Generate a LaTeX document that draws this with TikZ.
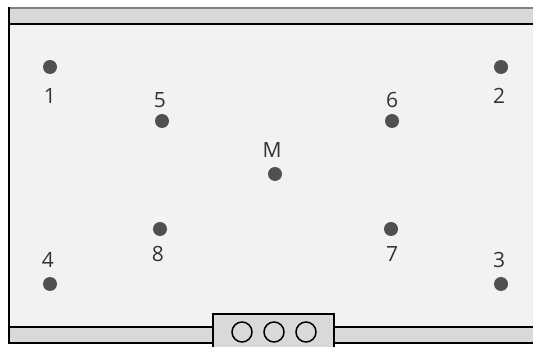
\documentclass[tikz,border=0pt]{standalone}
\usepackage{fontspec}
\setmainfont{Open Sans}
\usetikzlibrary{positioning}

\definecolor{panelbg}{HTML}{F2F2F2}
\definecolor{railgray}{HTML}{D9D9D9}
\definecolor{dotgray}{HTML}{505050}
\definecolor{textgray}{HTML}{333333}

\begin{document}
\begin{tikzpicture}[
        x=1pt, y=-1pt,
        sensor/.style={
            circle,
            fill=dotgray,
            inner sep=0pt,
            minimum size=14pt
        },
        tag/.style={
            text=textgray,
            inner sep=0pt,
            font=\fontsize{21}{21}\selectfont
        },
        rail/.style={
            fill=railgray
        },
        edge/.style={
            line width=2.4pt,
            black
        },
        socket/.style={
            draw=black,
            line width=1.5pt
        }
    ]

    \useasboundingbox (0,0) rectangle (533,347);

    % panel and rails
    \fill[panelbg] (9,8) rectangle (545,343);
    \fill[rail] (9,8) rectangle (545,24);
    \fill[rail] (9,327) rectangle (545,343);
    \draw[line width=1.5pt, gray] (9,8) -- (545,8);
    \draw[edge] (9,24) -- (545,24);
    \draw[edge] (9,327) -- (545,327);
    \draw[edge] (9,343) -- (545,343);
    \draw[edge] (9,7) -- (9,344);

    % connector
    \draw[rail, draw=black, line width=2pt] (213,360) -- (213,314) -- (334,314) -- (334,360);
    \foreach \cx in {242,274,306}
        \draw[socket] (\cx,332) circle (10);

    % sensors
    \node[sensor] (s1) at (50,67) {};
    \node[sensor] (s2) at (501,67) {};
    \node[sensor] (s5) at (162,121) {};
    \node[sensor] (s6) at (392,121) {};
    \node[sensor] (sM) at (275,174) {};
    \node[sensor] (s8) at (160,229) {};
    \node[sensor] (s7) at (391,229) {};
    \node[sensor] (s4) at (50,284) {};
    \node[sensor] (s3) at (501,284) {};

    % labels
    \node[tag] (t1) at (50,96) {1};
    \node[tag] (t2) at (499,96) {2};
    \node[tag] (t5) at (160,100) {5};
    \node[tag] (t6) at (392,100) {6};
    \node[tag] (tM) at (272,150) {M};
    \node[tag] (t8) at (158,254) {8};
    \node[tag] (t7) at (392,254) {7};
    \node[tag] (t4) at (48,260) {4};
    \node[tag] (t3) at (499,260) {3};

\end{tikzpicture}
\end{document}
